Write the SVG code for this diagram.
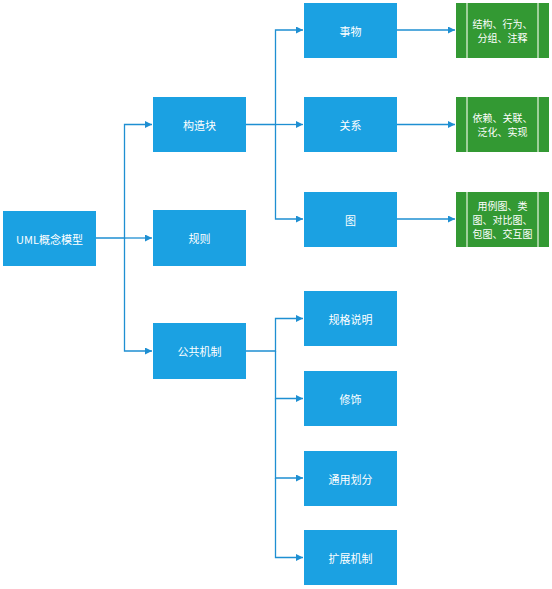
<svg xmlns="http://www.w3.org/2000/svg" width="552" height="589" viewBox="0 0 552 589">
<style>
.b{fill:#1ba1e2;}
.g{fill:#339933;}
.gl{stroke:#e8f5e0;stroke-width:1.2;fill:none;}
.t{fill:#ffffff;font-family:"Noto Sans CJK SC","Noto Sans",sans-serif;font-size:11px;text-anchor:middle;dominant-baseline:central;}
.s{font-size:10px;}
.c{stroke:#1e8fd2;stroke-width:1.3;fill:none;}
</style>
<defs>
<marker id="a" viewBox="0 0 10 10" refX="10" refY="5" markerWidth="7" markerHeight="7" markerUnits="userSpaceOnUse" orient="auto">
<path d="M0,0 L10,5 L0,10 Z" fill="#1e8fd2"/>
</marker>
</defs>
<rect width="552" height="589" fill="#ffffff"/>
<g id="connectors">
<path class="c" d="M96,238 H124.5 V124.5 H152" marker-end="url(#a)"/>
<path class="c" d="M124.5,238 H152" marker-end="url(#a)"/>
<path class="c" d="M124.5,238 V351 H152" marker-end="url(#a)"/>
<path class="c" d="M246,124.5 H275.5 V30 H303" marker-end="url(#a)"/>
<path class="c" d="M275.5,124.5 H303" marker-end="url(#a)"/>
<path class="c" d="M275.5,124.5 V219 H303" marker-end="url(#a)"/>
<path class="c" d="M397,30 H455" marker-end="url(#a)"/>
<path class="c" d="M397,124.5 H455" marker-end="url(#a)"/>
<path class="c" d="M397,219 H455" marker-end="url(#a)"/>
<path class="c" d="M246,351 H275.5 V318.5 H303" marker-end="url(#a)"/>
<path class="c" d="M275.5,351 V398.5 H303" marker-end="url(#a)"/>
<path class="c" d="M275.5,398.5 V478 H303" marker-end="url(#a)"/>
<path class="c" d="M275.5,478 V557.5 H303" marker-end="url(#a)"/>
</g>
<g id="root"><rect class="b" x="3" y="211" width="93" height="55"/><text class="t" x="49.5" y="238.5">UML概念模型</text></g>
<g id="gouzaokuai"><rect class="b" x="153" y="97" width="93" height="55"/><text class="t" x="199.5" y="124.5">构造块</text></g>
<g id="guize"><rect class="b" x="153" y="210" width="93" height="56"/><text class="t" x="199.5" y="238">规则</text></g>
<g id="gonggongjizhi"><rect class="b" x="153" y="323" width="93" height="56"/><text class="t" x="199.5" y="351">公共机制</text></g>
<g id="shiwu"><rect class="b" x="304" y="3" width="93" height="55"/><text class="t" x="350.5" y="30.5">事物</text></g>
<g id="guanxi"><rect class="b" x="304" y="97" width="93" height="55"/><text class="t" x="350.5" y="124.5">关系</text></g>
<g id="tu"><rect class="b" x="304" y="192" width="93" height="55"/><text class="t" x="350.5" y="219.5">图</text></g>
<g id="guigeshuoming"><rect class="b" x="304" y="291" width="93" height="55"/><text class="t" x="350.5" y="318.5">规格说明</text></g>
<g id="xiushi"><rect class="b" x="304" y="371" width="93" height="55"/><text class="t" x="350.5" y="398.5">修饰</text></g>
<g id="tongyonghuafen"><rect class="b" x="304" y="451" width="93" height="55"/><text class="t" x="350.5" y="478.5">通用划分</text></g>
<g id="kuozhanjizhi"><rect class="b" x="304" y="530" width="93" height="55"/><text class="t" x="350.5" y="557.5">扩展机制</text></g>
<g id="shiwu-detail"><rect class="g" x="456" y="3" width="93" height="55"/><path class="gl" d="M467,3 V58 M538,3 V58"/><text class="t s" x="502.5" y="23">结构、行为、</text><text class="t s" x="502.5" y="37">分组、注释</text></g>
<g id="guanxi-detail"><rect class="g" x="456" y="97" width="93" height="55"/><path class="gl" d="M467,97 V152 M538,97 V152"/><text class="t s" x="502.5" y="117">依赖、关联、</text><text class="t s" x="502.5" y="131">泛化、实现</text></g>
<g id="tu-detail"><rect class="g" x="456" y="192" width="93" height="55"/><path class="gl" d="M467,192 V247 M538,192 V247"/><text class="t s" x="502.5" y="205">用例图、类</text><text class="t s" x="502.5" y="219">图、对比图、</text><text class="t s" x="502.5" y="233">包图、交互图</text></g>
</svg>
